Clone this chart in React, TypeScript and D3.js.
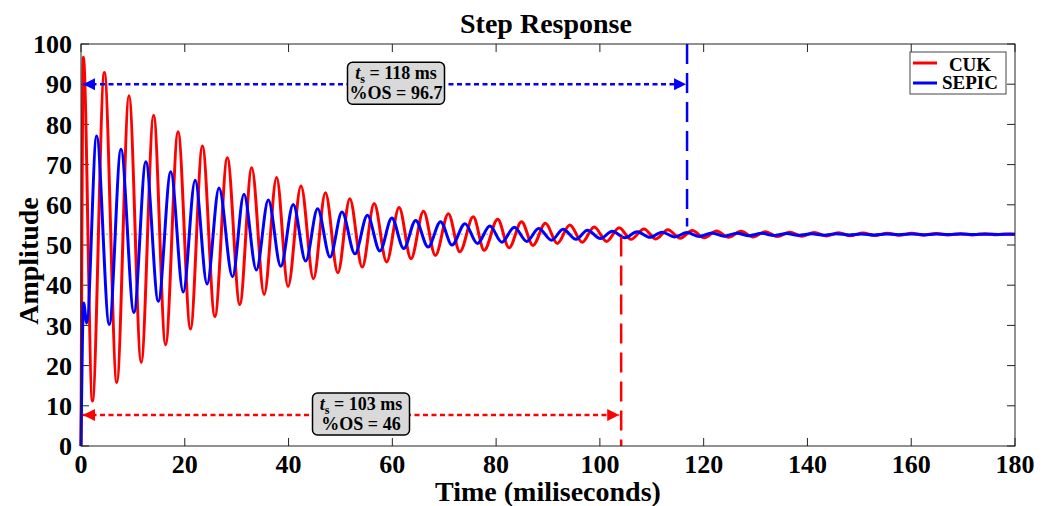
import React from "react";
import * as d3 from "d3";

// extrema (time ms, amplitude), joined by a monotone curve
const cukTime = [0, 0.45, 2.2, 4.5, 6.9, 9.25, 11.6, 14.0, 16.3, 18.7, 21.1, 23.4, 25.8, 28.2, 30.6, 32.9, 35.3, 37.7, 39.9, 42.4, 44.8, 47.1, 49.5, 51.8, 54.2, 56.5, 58.9, 61.3, 63.6, 66.0, 68.3, 70.8, 73.0, 75.6, 77.7, 80.3, 82.5, 84.9, 87.1, 89.5, 91.8, 94.2, 96.6, 98.9, 101.3, 103.7, 106.0, 108.5, 110.8, 113.1, 115.5, 117.8, 120.1, 122.5, 124.8, 127.2, 129.5, 131.9, 134.2, 136.6, 138.9, 141.3, 143.6, 146.0, 148.3, 150.7, 153.0, 155.4, 157.7, 160.1, 162.4, 164.8, 167.1, 169.5, 171.8, 174.2, 176.5, 178.9, 180];
const cukAmp = [0, 96.7, 11.2, 92.9, 15.8, 87.1, 20.8, 82.3, 25.2, 78.2, 29.1, 74.6, 32.2, 71.7, 35.2, 69.2, 37.7, 66.8, 39.7, 64.7, 41.6, 63.0, 43.1, 61.5, 44.5, 60.3, 45.8, 59.3, 46.6, 58.4, 47.4, 57.8, 48.3, 57.0, 48.7, 56.4, 49.3, 55.8, 49.9, 55.4, 50.4, 55.0, 50.7, 54.5, 50.9, 54.3, 51.4, 54.0, 51.5, 53.8, 51.7, 53.6, 51.8, 53.5, 51.9, 53.4, 52.0, 53.3, 52.1, 53.2, 52.2, 53.1, 52.25, 53.05, 52.3, 53.0, 52.35, 52.95, 52.4, 52.9, 52.45, 52.85, 52.5, 52.8, 52.5, 52.8, 52.55, 52.75, 52.7];

const sepicTime = [0, 0.5, 1.1, 3.0, 5.45, 7.7, 10.2, 12.5, 14.9, 17.3, 19.7, 22.0, 24.3, 26.6, 29.2, 31.4, 33.8, 36.1, 38.5, 40.9, 43.3, 45.6, 48.0, 50.3, 52.8, 55.2, 57.6, 59.9, 62.2, 64.5, 66.9, 69.3, 71.5, 74.0, 76.4, 78.8, 81.1, 83.5, 85.9, 88.2, 90.7, 92.9, 95.4, 97.6, 100.1, 102.4, 104.8, 107.2, 109.6, 112.0, 114.4, 116.8, 119.2, 121.6, 124.0, 126.4, 128.8, 131.2, 133.6, 136.0, 138.4, 140.8, 143.2, 145.6, 148.0, 150.4, 152.8, 155.2, 157.6, 160.0, 162.4, 164.8, 167.2, 169.6, 172.0, 174.4, 176.8, 179.2, 180];
const sepicAmp = [0, 35.6, 30.6, 77.1, 30.2, 73.8, 33.2, 70.7, 36.0, 68.2, 38.3, 66.1, 40.3, 64.2, 42.1, 62.6, 43.8, 61.2, 44.7, 60.1, 46.0, 59.0, 47.0, 58.2, 47.8, 57.4, 48.5, 56.7, 49.1, 56.1, 49.5, 55.8, 50.0, 55.3, 50.4, 54.7, 50.7, 54.4, 50.9, 54.1, 51.2, 53.9, 51.4, 53.7, 51.6, 53.4, 51.8, 53.3, 51.9, 53.2, 52.0, 53.1, 52.1, 53.0, 52.2, 52.95, 52.3, 52.9, 52.35, 52.85, 52.4, 52.8, 52.45, 52.8, 52.5, 52.75, 52.5, 52.75, 52.55, 52.75, 52.55, 52.72, 52.6, 52.72, 52.6, 52.7, 52.62, 52.7, 52.66];

const xTicks = [0, 20, 40, 60, 80, 100, 120, 140, 160, 180];
const yTicks = [0, 10, 20, 30, 40, 50, 60, 70, 80, 90, 100];
const steadyState = 52.7;

// settling markers
const sepicMark = { t: 116.8, level: 90, top: 100, bottom: 54.6, label: "118 ms", os: "96.7" };
const cukMark = { t: 104.1, level: 7.7, top: 52.1, bottom: 0, label: "103 ms", os: "46" };

const W = 1053;
const H = 506;
const font = "'Liberation Serif', 'Times New Roman', serif";

export default function App() {
  const x = d3.scaleLinear().domain([0, 180]).range([81, 1015]);
  const y = d3.scaleLinear().domain([0, 100]).range([446, 44]);

  const line = d3.line<number>().curve(d3.curveMonotoneX);

  const cukPath = line
    .x((_, i) => x(cukTime[i]))
    .y((v) => y(v))(cukAmp) as string;
  const sepicPath = line
    .x((_, i) => x(sepicTime[i]))
    .y((v) => y(v))(sepicAmp) as string;

  const [x0, x1] = x.range();
  const [y0, y1] = y.range();
  const tick = 8;

  const box = (cx: number, cy: number, w: number, h: number, ts: string, os: string) => (
    <g>
      <rect x={cx - w / 2} y={cy - h / 2} width={w} height={h} rx={5} fill="#d9d9d9" stroke="#000" strokeWidth={1.5} />
      <text x={cx} y={cy - 4} textAnchor="middle" fontFamily={font} fontWeight="bold" fontSize={18}>
        <tspan fontStyle="italic">t</tspan>
        <tspan fontSize={12} dy={4}>s</tspan>
        <tspan dy={-4}>{" = " + ts}</tspan>
      </text>
      <text x={cx} y={cy + 16} textAnchor="middle" fontFamily={font} fontWeight="bold" fontSize={18}>
        {"%OS = " + os}
      </text>
    </g>
  );

  return (
    <svg width={W} height={H} style={{ position: "absolute", left: 0, top: 0, background: "#fff" }}>
      <defs>
        <marker id="ab" markerUnits="userSpaceOnUse" markerWidth={14} markerHeight={12} refX={12} refY={6} orient="auto-start-reverse">
          <path d="M0,0 L12,6 L0,12 Z" fill="#0000ff" />
        </marker>
        <marker id="ar" markerUnits="userSpaceOnUse" markerWidth={14} markerHeight={12} refX={12} refY={6} orient="auto-start-reverse">
          <path d="M0,0 L12,6 L0,12 Z" fill="#ff0000" />
        </marker>
      </defs>
      <rect x={0} y={0} width={W} height={H} fill="#fff" />

      {/* steady-state line */}
      <line x1={x0} x2={x1} y1={y(steadyState)} y2={y(steadyState)} stroke="#999" strokeWidth={1} strokeDasharray="2,3" />

      {/* axis box and ticks */}
      {xTicks.map((t) => (
        <g key={"xt" + t}>
          <line x1={x(t)} x2={x(t)} y1={y0} y2={y0 - tick} stroke="#222" />
          <line x1={x(t)} x2={x(t)} y1={y1} y2={y1 + tick} stroke="#222" />
          <text x={x(t)} y={473} textAnchor="middle" fontFamily={font} fontWeight="bold" fontSize={26}>
            {t}
          </text>
        </g>
      ))}
      {yTicks.map((t) => (
        <g key={"yt" + t}>
          <line x1={x0} x2={x0 + tick} y1={y(t)} y2={y(t)} stroke="#222" />
          <line x1={x1} x2={x1 - tick} y1={y(t)} y2={y(t)} stroke="#222" />
          <text x={72} y={y(t)} dy="0.35em" textAnchor="end" fontFamily={font} fontWeight="bold" fontSize={26}>
            {t}
          </text>
        </g>
      ))}

      <path d={cukPath} fill="none" stroke="#ff0000" strokeWidth={3} />
      <path d={sepicPath} fill="none" stroke="#0000ff" strokeWidth={3} />

      {/* settling markers */}
      <line x1={x(sepicMark.t)} x2={x(sepicMark.t)} y1={y(sepicMark.top)} y2={y(sepicMark.bottom)} stroke="#0000ff" strokeWidth={2.5} strokeDasharray="20,9" />
      <line x1={x(cukMark.t)} x2={x(cukMark.t)} y1={y(cukMark.top)} y2={y(cukMark.bottom)} stroke="#ff0000" strokeWidth={2.5} strokeDasharray="20,9" />
      <line x1={x(0) + 2} x2={x(sepicMark.t) - 1} y1={y(sepicMark.level)} y2={y(sepicMark.level)} stroke="#0000ff" strokeWidth={2.5} strokeDasharray="5,3.5" markerStart="url(#ab)" markerEnd="url(#ab)" />
      <line x1={x(0) + 2} x2={x(cukMark.t) - 2} y1={y(cukMark.level)} y2={y(cukMark.level)} stroke="#ff0000" strokeWidth={2.5} strokeDasharray="5,3.5" markerStart="url(#ar)" markerEnd="url(#ar)" />
      {box(396, y(sepicMark.level) - 1, 97, 42, sepicMark.label, sepicMark.os)}
      {box(361, y(cukMark.level) - 1, 97, 42, cukMark.label, cukMark.os)}

      <rect x={x0} y={y1} width={x1 - x0} height={y0 - y1} fill="none" stroke="#222" strokeWidth={1} />

      {/* legend */}
      <rect x={910} y={52} width={96} height={42} fill="#fff" stroke="#444" strokeWidth={1} />
      <line x1={913} x2={937} y1={63} y2={63} stroke="#ff0000" strokeWidth={3} />
      <line x1={913} x2={937} y1={83} y2={83} stroke="#0000ff" strokeWidth={3} />
      <text x={970} y={71} textAnchor="middle" fontFamily={font} fontWeight="bold" fontSize={19}>CUK</text>
      <text x={970} y={89} textAnchor="middle" fontFamily={font} fontWeight="bold" fontSize={19}>SEPIC</text>

      {/* titles */}
      <text x={546} y={33} textAnchor="middle" fontFamily={font} fontWeight="bold" fontSize={28}>
        Step Response
      </text>
      <text x={(x0 + x1) / 2} y={501} textAnchor="middle" fontFamily={font} fontWeight="bold" fontSize={28}>
        Time (miliseconds)
      </text>
      <text transform={`translate(38,${(y0 + y1) / 2 + 16}) rotate(-90)`} textAnchor="middle" fontFamily={font} fontWeight="bold" fontSize={28}>
        Amplitude
      </text>
    </svg>
  );
}
